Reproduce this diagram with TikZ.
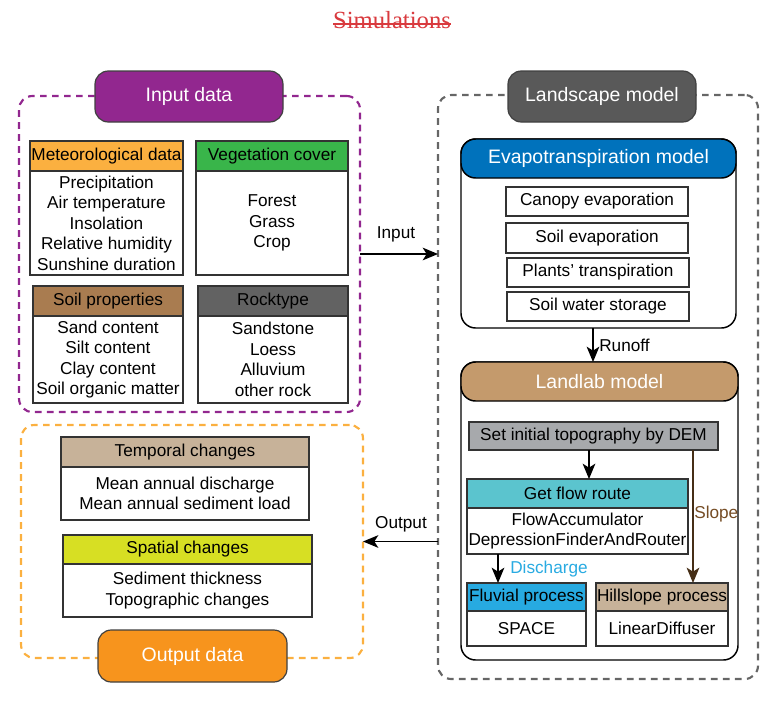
\documentclass[tikz,border=0pt]{standalone}
\usepackage{fontspec}
\setmainfont{Liberation Sans}
\newfontfamily\serifT{Liberation Serif}
\usetikzlibrary{arrows.meta}
\newdimen\px \px=0.75pt
\newsavebox\strikebox
\newcommand\lowstrike[1]{\sbox\strikebox{#1}\rlap{\rule[2.6pt]{\wd\strikebox}{1.2pt}}\usebox\strikebox}
\definecolor{purpleC}{HTML}{92278F}
\definecolor{orangeT}{HTML}{F7941D}
\definecolor{orangeD}{HTML}{FBB040}
\definecolor{frameG}{HTML}{666666}
\definecolor{landT}{HTML}{595959}
\definecolor{evapB}{HTML}{0072BC}
\definecolor{labT}{HTML}{C49A6C}
\definecolor{demG}{HTML}{A7A9AC}
\definecolor{flowT}{HTML}{5BC4CE}
\definecolor{fluvB}{HTML}{27AAE1}
\definecolor{tanL}{HTML}{C7B299}
\definecolor{spatY}{HTML}{D7DF23}
\definecolor{vegG}{HTML}{39B54A}
\definecolor{soilB}{HTML}{A97C50}
\definecolor{rockG}{HTML}{626262}
\definecolor{slopeB}{HTML}{754C24}
\definecolor{discB}{HTML}{29ABE2}
\definecolor{titleR}{HTML}{D93A3E}
\newcommand\bx[7]{\node[#6, anchor=north west, minimum width={(#4-#2)*\px}, minimum height={(#5-#3)*\px}] (#1) at (#2,#3) {#7};}
\tikzset{
  frame/.style={line width=1.6pt, rounded corners=10pt, dash pattern=on 5pt off 4pt, inner sep=0pt, outer sep=0pt},
  ttl/.style={draw=black!75, line width=0.9pt, rounded corners=10pt, text=white, font=\fontsize{14.6}{17}\selectfont, inner sep=0pt, outer sep=0pt},
  hdr/.style={draw=black!80, line width=0.9pt, font=\fontsize{12.9}{15.4}\selectfont, inner sep=0pt, outer sep=0pt, align=center},
  body/.style={hdr, fill=white},
  rbox/.style={draw=black, line width=1.1pt, rounded corners=11pt, fill=white, inner sep=0pt, outer sep=0pt},
  rhdr/.style={draw=black, line width=1.1pt, rounded corners=11pt, text=white, font=\fontsize{14.6}{17}\selectfont, inner sep=0pt, outer sep=0pt},
  arr/.style={-{Stealth[length=11.5pt,width=9.5pt,inset=3pt]}, line width=1.1pt},
  lbl/.style={font=\fontsize{12.9}{15.4}\selectfont, inner sep=0pt}
}
\begin{document}
\begin{tikzpicture}[x=0.75pt,y=-0.75pt]
\useasboundingbox (0,0) rectangle (770,700);
% title
\node[font=\serifT\fontsize{18.5}{21}\selectfont, text=titleR, inner sep=0pt] (sim) at (392,20) {\lowstrike{Simulations}};
% frames
\bx{inframe}{19}{96}{360}{412}{frame, draw=purpleC}{}
\bx{outframe}{21}{425}{363}{658}{frame, draw=orangeD}{}
\bx{landframe}{438}{95}{758}{679}{frame, draw=frameG}{}
% titles
\bx{intitle}{95}{71}{283}{122}{ttl, fill=purpleC}{Input data}
\bx{outtitle}{98}{630}{287}{682}{ttl, fill=orangeT}{Output data}
\bx{landtitle}{508}{71}{696}{122}{ttl, fill=landT}{Landscape model}
% input boxes
\bx{methdr}{30}{141}{183}{171}{hdr, fill=orangeD}{Meteorological data}
\bx{metbody}{30}{171}{183}{275}{body}{Precipitation\\Air temperature\\Insolation\\Relative humidity\\Sunshine duration}
\bx{veghdr}{196}{141}{348}{171}{hdr, fill=vegG}{Vegetation cover}
\bx{vegbody}{196}{171}{348}{275}{body}{Forest\\Grass\\Crop}
\bx{soilhdr}{33}{286}{183}{316}{hdr, fill=soilB}{Soil properties}
\bx{soilbody}{33}{316}{183}{403}{body}{Sand content\\Silt content\\Clay content\\Soil organic matter}
\bx{rockhdr}{198}{286}{348}{316}{hdr, fill=rockG}{Rocktype}
\bx{rockbody}{198}{316}{348}{403}{body}{Sandstone\\Loess\\Alluvium\\other rock}
% output boxes
\bx{temphdr}{61}{437}{309}{467}{hdr, fill=tanL}{Temporal changes}
\bx{tempbody}{61}{467}{309}{520}{body}{Mean annual discharge\\Mean annual sediment load}
\bx{spathdr}{63}{535}{312}{564}{hdr, fill=spatY}{Spatial changes}
\bx{spatbody}{63}{564}{312}{617}{body}{Sediment thickness\\Topographic changes}
% evapotranspiration
\bx{evap}{461}{139}{736}{328}{rbox}{}
\bx{evaphdr}{461}{139}{736}{178}{rhdr, fill=evapB}{Evapotranspiration model}
\bx{canopy}{506}{187}{688}{216}{body}{Canopy evaporation}
\bx{soilevap}{506}{223}{688}{253}{body}{Soil evaporation}
\bx{plants}{507}{258}{689}{287}{body}{Plants’ transpiration}
\bx{storage}{507}{292}{689}{321}{body}{Soil water storage}
% landlab
\bx{landlab}{461}{362}{738}{660}{rbox}{}
\bx{landlabhdr}{461}{362}{738}{401}{rhdr, fill=labT}{Landlab model}
\bx{dem}{469}{422}{718}{450}{hdr, fill=demG}{Set initial topography by DEM}
\bx{flowhdr}{467}{479}{688}{508}{hdr, fill=flowT}{Get flow route}
\bx{flowbody}{467}{508}{688}{554}{body}{FlowAccumulator\\DepressionFinderAndRouter}
\bx{fluvhdr}{467}{583}{586}{611}{hdr, fill=fluvB}{Fluvial process}
\bx{fluvbody}{467}{611}{586}{646}{body}{SPACE}
\bx{hillhdr}{596}{583}{728}{611}{hdr, fill=tanL}{Hillslope process}
\bx{hillbody}{596}{611}{728}{646}{body}{LinearDiffuser}
% connectors
\draw[arr] (inframe.east) -- (landframe.west |- inframe.east);
\node[lbl, anchor=south] (inlbl) at (396,242) {Input};
\draw[arr] (landframe.west |- outframe.east) -- (outframe.east);
\node[lbl, anchor=south] (outlbl) at (401,532) {Output};
\coordinate (ro) at (593,0);
\draw[arr] (evap.south -| ro) -- (landlab.north -| ro);
\node[lbl, anchor=west] (rolbl) at (599,345) {Runoff};
\coordinate (df) at (589,0);
\draw[arr] (dem.south -| df) -- (flowhdr.north -| df);
\coordinate (sl) at (693,0);
\draw[arr, draw=slopeB!60!black] (dem.south -| sl) -- (hillhdr.north -| sl);
\node[lbl, anchor=west, text=slopeB] (sllbl) at (694,514) {Slope};
\coordinate (dc) at (498,0);
\draw[arr] (flowbody.south -| dc) -- (fluvhdr.north -| dc);
\node[lbl, anchor=west, text=discB] (dclbl) at (510,569) {Discharge};
\end{tikzpicture}
\end{document}
